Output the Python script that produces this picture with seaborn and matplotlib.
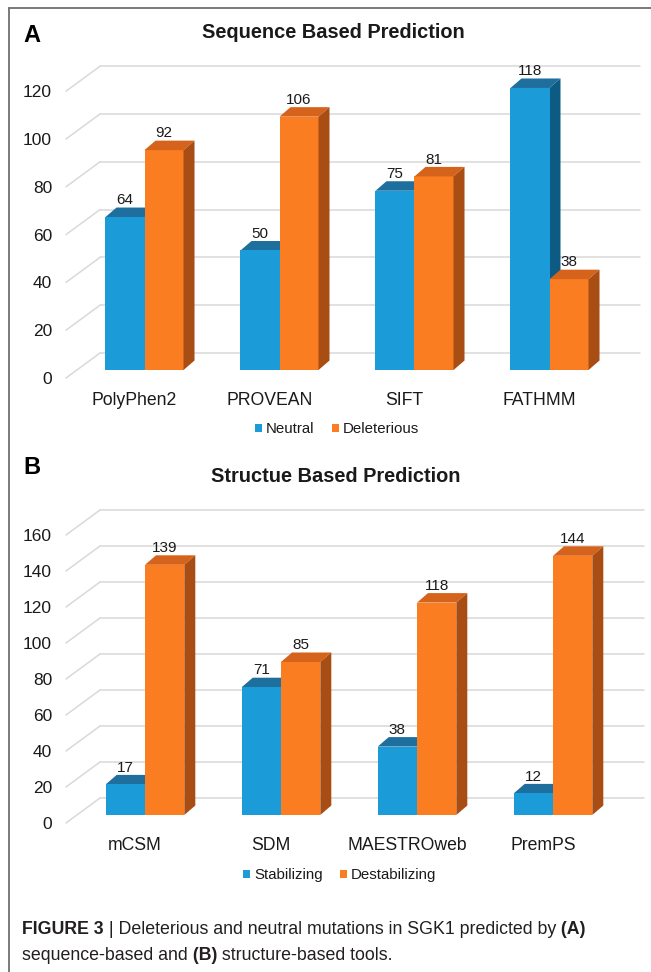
import matplotlib
matplotlib.use("Agg")
import matplotlib.pyplot as plt
import numpy as np
import pandas as pd
import seaborn as sns
from matplotlib.patches import Polygon, Patch
from matplotlib.lines import Line2D
from matplotlib.transforms import ScaledTranslation

# ---------------- data ----------------
seq_tools = ["PolyPhen2", "PROVEAN", "SIFT", "FATHMM"]
seq_neutral = [64, 50, 75, 118]
seq_deleterious = [92, 106, 81, 38]
seq_series = ["Neutral", "Deleterious"]
seq_ticks = [0, 20, 40, 60, 80, 100, 120]

str_tools = ["mCSM", "SDM", "MAESTROweb", "PremPS"]
str_stabilizing = [17, 71, 38, 12]
str_destabilizing = [139, 85, 118, 144]
str_series = ["Stabilizing", "Destabilizing"]
str_ticks = [0, 20, 40, 60, 80, 100, 120, 140, 160]

title_a = "Sequence Based Prediction"
title_b = "Structue Based Prediction"

# ---------------- style ----------------
sns.set_style("white")
plt.rcParams["font.family"] = ["Liberation Sans", "DejaVu Sans"]

W, H = 651, 972
DPI = 100
fig = plt.figure(figsize=(W / DPI, H / DPI), dpi=DPI)
fig.patch.set_facecolor("white")

BLUE = "#1B9BD8"
BLUE_TOP = "#1F6F9E"
BLUE_SIDE = "#0D5B82"
ORANGE = "#FB7D21"
ORANGE_TOP = "#D6631B"
ORANGE_SIDE = "#A84D13"
GRID = "#D9D9D9"
TXT = "#1a1a1a"

BAR_D = (11, 9.5)      # bar depth in px
FRONT = (-11, -8)      # front wall offset in px (relative to bar front)
BACK = (23, 17)        # back wall offset in px


def px_ax(left, base, width, top):
    return [left / W, 1 - base / H, width / W, (base - top) / H]


def draw_panel(ax, cats, s1, s2, names, ticks, ymax):
    df = pd.DataFrame({
        "tool": cats * 2,
        "count": list(s1) + list(s2),
        "type": [names[0]] * len(cats) + [names[1]] * len(cats),
    })
    sns.barplot(data=df, x="tool", y="count", hue="type", order=cats,
                hue_order=names, palette=[BLUE, ORANGE], width=0.578,
                saturation=1, errorbar=None, legend=False, linewidth=0, ax=ax)
    ax.set_xlim(-0.5, len(cats) - 0.5)
    ax.set_ylim(0, ymax)
    ax.set_xlabel("")
    ax.set_ylabel("")
    ax.set_facecolor("none")
    for s in ax.spines.values():
        s.set_visible(False)
    ax.grid(False)

    o = ax.transData.transform((0, 0))
    sx = ax.transData.transform((1, 0))[0] - o[0]
    sy = ax.transData.transform((0, 1))[1] - o[1]
    ddx, ddy = BAR_D[0] / sx, BAR_D[1] / sy
    fx, fy = FRONT[0] / sx, FRONT[1] / sy
    bx, by = BACK[0] / sx, BACK[1] / sy
    x0l, x1l = ax.get_xlim()

    # perspective gridlines (back wall + left diagonal)
    for v in ticks:
        ax.add_line(Line2D([x0l + bx, x1l + bx], [v + by, v + by], color=GRID,
                           lw=1.1, zorder=0.5, clip_on=False))
        ax.add_line(Line2D([x0l + fx, x0l + bx], [v + fy, v + by], color=GRID,
                           lw=1.1, zorder=0.5, clip_on=False))

    faces = [(BLUE_TOP, BLUE_SIDE, 1.5), (ORANGE_TOP, ORANGE_SIDE, 2.5)]
    for ci, cont in enumerate(ax.containers):
        topc, sidec, z = faces[ci]
        for rect in cont:
            rect.set_zorder(2)
            x0 = rect.get_x()
            w = rect.get_width()
            h = rect.get_height()
            x1 = x0 + w
            ax.add_patch(Polygon([(x0, h), (x1, h), (x1 + ddx, h + ddy), (x0 + ddx, h + ddy)],
                                 closed=True, facecolor=topc, edgecolor="none",
                                 zorder=z, clip_on=False))
            ax.add_patch(Polygon([(x1, 0), (x1, h), (x1 + ddx, h + ddy), (x1 + ddx, ddy)],
                                 closed=True, facecolor=sidec, edgecolor="none",
                                 zorder=z, clip_on=False))
        ax.bar_label(cont, padding=7, fontsize=11, color=TXT, zorder=3)

    ax.set_yticks(ticks)
    ax.set_yticklabels([str(t) for t in ticks])
    ax.tick_params(axis="y", length=0, pad=18, labelsize=12.5, labelcolor=TXT)
    ax.tick_params(axis="x", length=0, pad=15.5, labelsize=12.7, labelcolor=TXT)
    for lab in ax.get_yticklabels():
        lab.set_transform(lab.get_transform() + ScaledTranslation(0, FRONT[1] / DPI, fig.dpi_scale_trans))
    for lab in ax.get_xticklabels():
        lab.set_transform(lab.get_transform() + ScaledTranslation(-10 / DPI, 0, fig.dpi_scale_trans))


# ---------------- panel A ----------------
ax_a = fig.add_axes(px_ax(77, 370, 540, 370 - 125 * 2.39))
draw_panel(ax_a, seq_tools, seq_neutral, seq_deleterious, seq_series, seq_ticks, 125)

# ---------------- panel B ----------------
ax_b = fig.add_axes(px_ax(77, 815, 544, 815 - 165 * 1.8))
draw_panel(ax_b, str_tools, str_stabilizing, str_destabilizing, str_series, str_ticks, 165)

# ---------------- titles, letters, legends ----------------
fig.text(23 / W, 1 - 36 / H, "A", fontsize=17, fontweight="bold", ha="left", va="center", color="black")
fig.text(23 / W, 1 - 467 / H, "B", fontsize=17, fontweight="bold", ha="left", va="center", color="black")
fig.text(333.5 / W, 1 - 33 / H, title_a, fontsize=14.4, fontweight="bold", ha="center", va="center", color=TXT)
fig.text(336 / W, 1 - 477 / H, title_b, fontsize=14.4, fontweight="bold", ha="center", va="center", color=TXT)

for names, cx, cy in [(seq_series, 337, 429), (str_series, 339.5, 875)]:
    handles = [Patch(facecolor=BLUE, edgecolor="none", label=names[0]),
               Patch(facecolor=ORANGE, edgecolor="none", label=names[1])]
    fig.legend(handles=handles, loc="center", bbox_to_anchor=(cx / W, 1 - cy / H),
               ncol=2, frameon=False, fontsize=10.8, handlelength=0.47,
               handleheight=0.47, handletextpad=0.25, columnspacing=1.15,
               borderpad=0, labelcolor=TXT)

# ---------------- frame ----------------
fig.add_artist(Line2D([9 / W, 1], [1 - 8 / H, 1 - 8 / H], color="#707070", lw=1.3))
fig.add_artist(Line2D([9 / W, 9 / W], [0, 1 - 8 / H], color="#707070", lw=1.3))

# ---------------- caption ----------------
renderer = fig.canvas.get_renderer()
cap_lines = [
    (929, [("FIGURE 3", True), (" | Deleterious and neutral mutations in SGK1 predicted by", False), (" (A)", True)]),
    (955, [("sequence-based and", False), (" (B)", True), (" structure-based tools.", False)]),
]
for ypx, parts in cap_lines:
    x = 22
    for txt, bold in parts:
        t = fig.text(x / W, 1 - ypx / H, txt, fontsize=12.8,
                     fontweight="bold" if bold else "normal",
                     ha="left", va="center", color="#231F20")
        bb = t.get_window_extent(renderer=renderer)
        x = bb.x1

fig.savefig("out.png", dpi=DPI, facecolor="white")
